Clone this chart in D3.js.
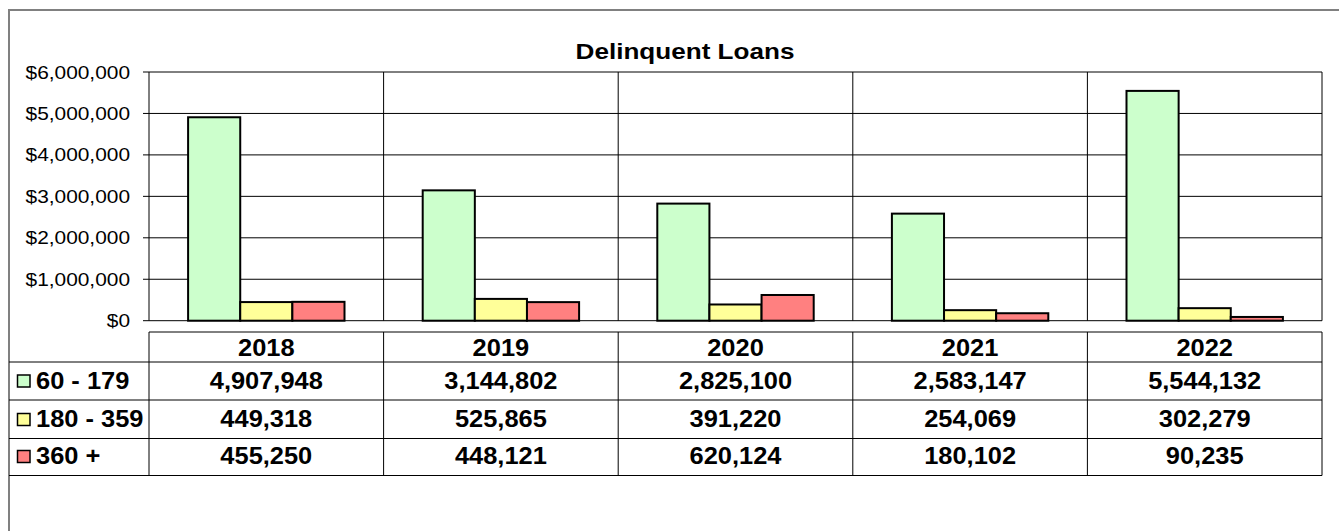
<!DOCTYPE html>
<html>
<head>
<meta charset="utf-8">
<script src="https://cdn.jsdelivr.net/npm/d3@7"></script>
<style>
  body { margin: 0; background: #fff; }
  svg { display: block; font-family: "Liberation Sans", Arial, sans-serif; }
</style>
</head>
<body>
<script>
// data
const years = ["2018", "2019", "2020", "2021", "2022"];
const seriesNames = ["60 - 179", "180 - 359", "360 +"];
const loans60 = [4907948, 3144802, 2825100, 2583147, 5544132];
const loans180 = [449318, 525865, 391220, 254069, 302279];
const loans360 = [455250, 448121, 620124, 180102, 90235];
const seriesColors = ["#CCFFCC", "#FFFF99", "#FF8080"];
const yTicks = [0, 1000000, 2000000, 3000000, 4000000, 5000000, 6000000];

const seriesValues = [loans60, loans180, loans360];

var W = 1339, H = 531;
var plot = {left: 149, right: 1322, top: 72, bottom: 320.7};
var tableTop = 332, rowBounds = [362, 400, 438.5, 475.5];

var svg = d3.select("body").append("svg")
    .attr("width", W)
    .attr("height", H);

// outer frame
svg.append("rect")
    .attr("x", 9).attr("y", 10)
    .attr("width", W + 10).attr("height", H + 10)
    .style("fill", "none")
    .style("stroke", "#808080")
    .style("stroke-width", 2);

var x = d3.scaleBand().domain(years).range([plot.left, plot.right]).padding(0);
var gap = x.bandwidth() * 0.6 / 3.6;  // excel gap width 150%
var x1 = d3.scaleBand().domain(seriesNames)
    .range([gap, x.bandwidth() - gap]).padding(0);
var y = d3.scaleLinear().domain([0, 6000000]).range([plot.bottom, plot.top]);

// stretched text helper (the source chart is horizontally stretched)
function stext(g, tx, ty, str, size, bold, anchor, sx) {
  return g.append("text")
      .attr("transform", "translate(" + tx + "," + ty + ") scale(" + sx + ",1)")
      .attr("text-anchor", anchor)
      .style("font-size", size + "px")
      .style("font-weight", bold ? "bold" : "normal")
      .style("fill", "#000")
      .text(str);
}

// gridlines
svg.append("g").selectAll("line")
    .data(yTicks)
    .enter().append("line")
    .attr("x1", plot.left - 6).attr("x2", plot.right)
    .attr("y1", d => y(d)).attr("y2", d => y(d))
    .style("stroke", "#000").style("stroke-width", 1);

// category dividers
svg.append("g").selectAll("line")
    .data(years.concat(["end"]))
    .enter().append("line")
    .attr("x1", (d, i) => i < years.length ? x(d) : plot.right)
    .attr("x2", (d, i) => i < years.length ? x(d) : plot.right)
    .attr("y1", plot.top).attr("y2", plot.bottom)
    .style("stroke", "#000").style("stroke-width", 1);

// bars
seriesNames.forEach(function(s, si) {
  svg.append("g").selectAll("rect")
      .data(seriesValues[si])
      .enter().append("rect")
      .attr("x", (d, i) => x(years[i]) + x1(s))
      .attr("y", d => y(d))
      .attr("width", x1.bandwidth())
      .attr("height", d => y(0) - y(d))
      .style("fill", seriesColors[si])
      .style("stroke", "#000")
      .style("stroke-width", 2);
});

// y axis labels
var yFmt = d => "$" + d3.format(",")(d);
yTicks.forEach(function(t) {
  stext(svg, 130, y(t) + 6.5, yFmt(t), 18, false, "end", 1.16);
});

// title
stext(svg, 685, 58.5, "Delinquent Loans", 22.5, true, "middle", 1.16);

// data table
var tg = svg.append("g");
var edges = years.map(d => x(d)).concat([plot.right]);
// header row
tg.append("line").attr("x1", plot.left).attr("x2", plot.right)
    .attr("y1", tableTop).attr("y2", tableTop)
    .style("stroke", "#000");
rowBounds.forEach(function(ry) {
  tg.append("line").attr("x1", 9).attr("x2", plot.right)
      .attr("y1", ry).attr("y2", ry)
      .style("stroke", "#000");
});
edges.forEach(function(ex) {
  tg.append("line").attr("x1", ex).attr("x2", ex)
      .attr("y1", tableTop).attr("y2", rowBounds[rowBounds.length - 1])
      .style("stroke", "#000");
});

years.forEach(function(yr) {
  stext(tg, x(yr) + x.bandwidth() / 2, 355.5, yr, 24, true, "middle", 1.06);
});

seriesNames.forEach(function(s, si) {
  var base = rowBounds[si + 1] - 11.5;
  tg.append("rect")
      .attr("x", 17.5).attr("y", base - 13.5)
      .attr("width", 12.5).attr("height", 12)
      .style("fill", seriesColors[si])
      .style("stroke", "#000")
      .style("stroke-width", 1.5);
  stext(tg, 36, base, s, 24, true, "start", 1.06);
  seriesValues[si].forEach(function(v, i) {
    stext(tg, x(years[i]) + x.bandwidth() / 2, base, d3.format(",")(v), 24, true, "middle", 1.06);
  });
});
</script>
</body>
</html>
